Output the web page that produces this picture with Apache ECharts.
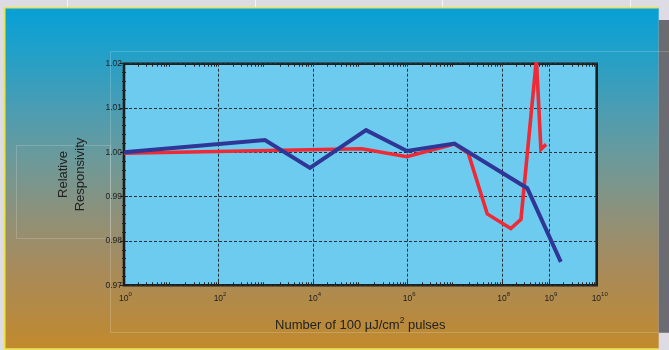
<!DOCTYPE html>
<html>
<head>
<meta charset="utf-8">
<script src="https://cdn.jsdelivr.net/npm/echarts@6/dist/echarts.min.js"></script>
<style>
  html, body { margin: 0; padding: 0; background: #dddbe3; }
  #chart { width: 669px; height: 350px; }
</style>
</head>
<body>
<div id="chart"></div>
<script>
// Pulse counts (number of 100 µJ/cm² pulses) and relative responsivity
const redPulses = [1, 1.07e5, 9.6e5, 9.8e6, 1.92e7, 4.84e7, 1.52e8, 2.5e8, 5.3e8, 6.6e8, 8.5e8];
const redResp   = [0.9998, 1.0008, 0.9990, 1.0019, 0.9998, 0.9861, 0.9828, 0.9849, 1.0210, 1.0007, 1.0018];

const bluePulses = [1, 960, 8600, 1.32e5, 9.7e5, 9.8e6, 3.4e8, 1.74e9];
const blueResp   = [1.0000, 1.0028, 0.9965, 1.0050, 1.0003, 1.0020, 0.9919, 0.9753];

// Axis decades (log10 of pulse count)
const xMinDecade = 0;
const xMaxDecade = 10;
const xLabelDecades = [0, 2, 4, 6, 8, 9, 10];
const xGridDecades = [2, 4, 6, 8, 9];

// Responsivity axis
const yMin = 0.97;
const yMax = 1.02;
const yStep = 0.01;

// Minor log ticks: 2..9 inside every decade
const xMinorTicks = [];
for (let d = xMinDecade; d < xMaxDecade; d++) {
  for (let k = 2; k <= 9; k++) xMinorTicks.push(d + Math.log10(k));
}

const toLog = (xs, ys) => xs.map((x, i) => [Math.log10(x), ys[i]]);

const FONT = 'Liberation Sans';
const gridDash = { color: '#25323a', width: 1, type: [3, 2] };

const chart = echarts.init(document.getElementById('chart'), null, { renderer: 'canvas' });

chart.setOption({
  backgroundColor: '#dddbe3',
  animation: false,
  textStyle: { fontFamily: FONT },
  graphic: [
    // slide panel with vertical gradient
    { type: 'rect', z: -20, silent: true,
      shape: { x: 5, y: 8, width: 653.7, height: 340.5 },
      style: { fill: new echarts.graphic.LinearGradient(0, 0, 0, 1, [
        { offset: 0.00, color: '#07a0d6' },
        { offset: 0.12, color: '#1fa0ca' },
        { offset: 0.28, color: '#479db5' },
        { offset: 0.44, color: '#6b9a9b' },
        { offset: 0.60, color: '#8c917b' },
        { offset: 0.76, color: '#a78b5c' },
        { offset: 0.90, color: '#b68a42' },
        { offset: 1.00, color: '#c28a2b' }
      ]) } },
    // yellow edge of the panel
    { type: 'line', z: -19, silent: true, shape: { x1: 4.5, y1: 7.8, x2: 658.5, y2: 7.8 }, style: { stroke: '#ece64a', lineWidth: 1.4 } },
    { type: 'line', z: -19, silent: true, shape: { x1: 4.5, y1: 7.8, x2: 4.5, y2: 350 }, style: { stroke: '#ece64a', lineWidth: 2 } },
    { type: 'line', z: -19, silent: true, shape: { x1: 4.5, y1: 349.2, x2: 658.5, y2: 349.2 }, style: { stroke: '#ece64a', lineWidth: 1.6 } },
    // dark strip on the right
    { type: 'rect', z: -19, silent: true, shape: { x: 658.7, y: 20, width: 11, height: 313 }, style: { fill: '#6b6c71' } },
    // faint frame outlines
    { type: 'rect', z: -18, silent: true, shape: { x: 110.5, y: 51.5, width: 600, height: 281 },
      style: { fill: 'none', stroke: 'rgba(255,255,255,0.18)', lineWidth: 1 } },
    { type: 'rect', z: -18, silent: true, shape: { x: 16.5, y: 145.5, width: 94, height: 93 },
      style: { fill: 'none', stroke: 'rgba(255,255,255,0.18)', lineWidth: 1 } },
    { type: 'line', z: -18, silent: true, shape: { x1: 67.5, y1: 0, x2: 67.5, y2: 7 }, style: { stroke: 'rgba(255,255,255,0.7)', lineWidth: 1 } },
    { type: 'line', z: -18, silent: true, shape: { x1: 255.5, y1: 0, x2: 255.5, y2: 7 }, style: { stroke: 'rgba(255,255,255,0.7)', lineWidth: 1 } },
    { type: 'line', z: -18, silent: true, shape: { x1: 442.5, y1: 0, x2: 442.5, y2: 7 }, style: { stroke: 'rgba(255,255,255,0.7)', lineWidth: 1 } },
    { type: 'line', z: -18, silent: true, shape: { x1: 630.5, y1: 0, x2: 630.5, y2: 7 }, style: { stroke: 'rgba(255,255,255,0.7)', lineWidth: 1 } }
  ],
  grid: {
    left: 124, right: 72.3, top: 63.7, bottom: 64.7,
    show: true,
    backgroundColor: '#6ecbf0',
    borderColor: '#1e1e1e',
    borderWidth: 2.6
  },
  xAxis: [
    {
      type: 'value', position: 'bottom', min: xMinDecade, max: xMaxDecade, interval: 1,
      name: 'Number of 100 \u00b5J/cm{sup|2} pulses',
      nameLocation: 'middle', nameGap: 31,
      nameTextStyle: {
        fontFamily: FONT, fontSize: 13, color: '#222', lineHeight: 18,
        rich: { sup: { fontSize: 8.5, fontFamily: FONT, color: '#222', verticalAlign: 'top', lineHeight: 7 } }
      },
      axisLine: { show: false },
      axisTick: { show: true, inside: true, length: 4, customValues: xGridDecades, lineStyle: { color: '#222' } },
      splitLine: { show: true, lineStyle: gridDash },
      axisLabel: {
        customValues: xLabelDecades,
        margin: 6,
        formatter: v => {
          const e = String(Math.round(v));
          return (e.length > 1 ? '{s2|}' : '{s1|}') + '{b|10}{e|' + e + '}';
        },
        rich: {
          s1: { width: 3 },
          s2: { width: 6 },
          b: { fontFamily: FONT, fontSize: 8.5, color: '#1e1e1e', lineHeight: 11, verticalAlign: 'bottom' },
          e: { fontFamily: FONT, fontSize: 6, color: '#1e1e1e', lineHeight: 6, verticalAlign: 'top' }
        }
      }
    },
    {
      type: 'value', position: 'bottom', min: xMinDecade, max: xMaxDecade,
      axisLine: { show: false },
      axisTick: { show: true, inside: true, length: 3, customValues: xMinorTicks, lineStyle: { color: '#222' } },
      splitLine: { show: false },
      axisLabel: { show: false }
    },
    {
      type: 'value', position: 'top', min: xMinDecade, max: xMaxDecade,
      axisLine: { show: false },
      axisTick: { show: true, inside: true, length: 3, customValues: xMinorTicks, lineStyle: { color: '#222' } },
      splitLine: { show: false },
      axisLabel: { show: false }
    }
  ],
  yAxis: [
    {
      type: 'value', position: 'left', min: yMin, max: yMax, interval: yStep,
      name: 'Relative\nResponsivity',
      nameLocation: 'middle', nameRotate: 90, nameGap: 35,
      nameTextStyle: { fontFamily: FONT, fontSize: 13, color: '#222', lineHeight: 17 },
      axisLine: { show: false },
      axisTick: { show: true, inside: true, length: 4, lineStyle: { color: '#222' } },
      minorTick: { show: true, splitNumber: 5, length: 2, lineStyle: { color: '#222' } },
      splitLine: { show: true, lineStyle: gridDash },
      axisLabel: {
        margin: 2, fontFamily: FONT, fontSize: 8.5, color: '#1e1e1e',
        formatter: v => v.toFixed(2)
      }
    },
    {
      type: 'value', position: 'right', min: yMin, max: yMax, interval: yStep,
      axisLine: { show: false },
      axisTick: { show: true, inside: true, length: 4, lineStyle: { color: '#222' } },
      minorTick: { show: true, splitNumber: 5, length: 2, lineStyle: { color: '#222' } },
      splitLine: { show: false },
      axisLabel: { show: false }
    }
  ],
  series: [
    {
      type: 'line', name: 'red', xAxisIndex: 0, yAxisIndex: 0,
      data: toLog(redPulses, redResp),
      symbol: 'none', clip: true, z: 3,
      lineStyle: { color: '#ee2a36', width: 3.6, join: 'miter' }
    },
    {
      type: 'line', name: 'blue', xAxisIndex: 0, yAxisIndex: 0,
      data: toLog(bluePulses, blueResp),
      symbol: 'none', clip: true, z: 4,
      lineStyle: { color: '#2e3796', width: 4, join: 'miter' }
    }
  ]
});
</script>
</body>
</html>
